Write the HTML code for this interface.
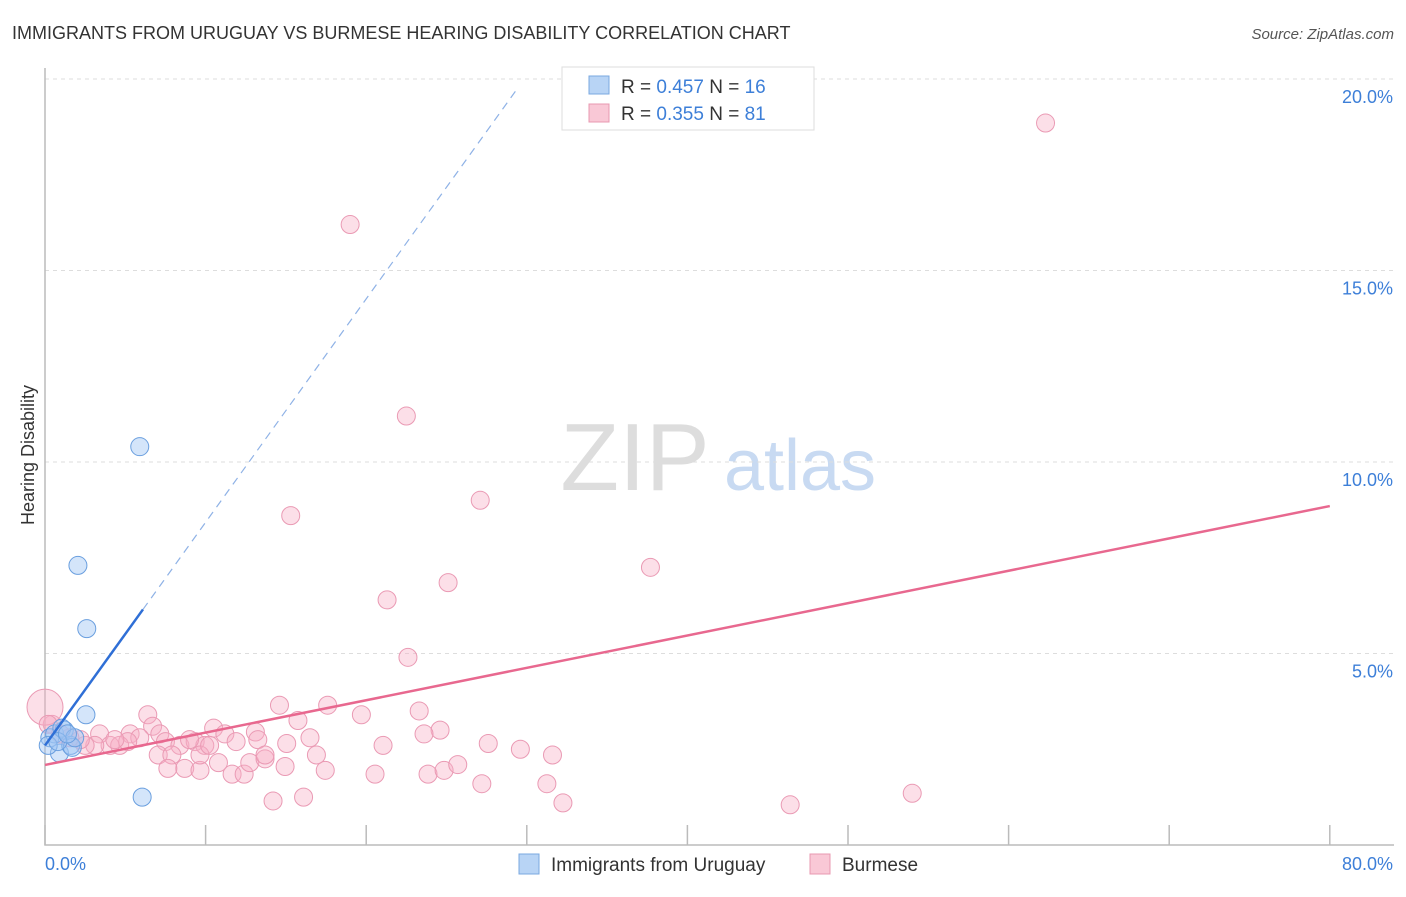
<!DOCTYPE html>
<html><head><meta charset="utf-8"><style>
body{margin:0;background:#fff;font-family:"Liberation Sans",sans-serif;}
svg text{font-family:"Liberation Sans",sans-serif;}
</style></head><body>
<svg width="1406" height="892" viewBox="0 0 1406 892" id="c">
<text x="12" y="39" font-size="18" fill="#333">IMMIGRANTS FROM URUGUAY VS BURMESE HEARING DISABILITY CORRELATION CHART</text>
<text x="1394" y="39" font-size="15" fill="#555" font-style="italic" text-anchor="end">Source: ZipAtlas.com</text>
<text x="635" y="490" font-size="96" fill="#ddd" font-family="Liberation Serif" text-anchor="middle">ZIP</text>
<text x="800" y="490" font-size="72" fill="#c8daf2" text-anchor="middle">atlas</text>
<text transform="translate(34,455) rotate(-90)" font-size="18" fill="#333" text-anchor="middle">Hearing Disability</text>
<g id="grid"></g><g id="pts"></g><g id="lines"></g>
<g>
<rect x="562" y="67" width="252" height="63" fill="#fff" stroke="#ddd"/>
<rect x="589" y="76" width="20" height="18" fill="#b8d4f5" stroke="#7aa8e0"/>
<text x="621" y="93" font-size="19" fill="#333">R = <tspan fill="#3d7fd8">0.457</tspan>   N = <tspan fill="#3d7fd8">16</tspan></text>
<rect x="589" y="104" width="20" height="18" fill="#f9c8d6" stroke="#e898b0"/>
<text x="621" y="120" font-size="19" fill="#333">R = <tspan fill="#3d7fd8">0.355</tspan>   N = <tspan fill="#3d7fd8">81</tspan></text>
</g>
<g>
<rect x="519" y="854" width="20" height="20" fill="#b8d4f5" stroke="#7aa8e0"/>
<text x="551" y="871" font-size="19" fill="#333">Immigrants from Uruguay</text>
<rect x="810" y="854" width="20" height="20" fill="#f9c8d6" stroke="#e898b0"/>
<text x="842" y="871" font-size="19" fill="#333">Burmese</text>
</g>
</svg>
<script>
const yTicks=[5,10,15,20];
const yTickLabels=["5.0%","10.0%","15.0%","20.0%"];
const xTicks=[0,10,20,30,40,50,60,70,80];
const blueX=[5.9,2.05,2.6,2.55,6.05,0.3,0.6,0.9,1.2,1.6,1.7,0.2,1.05,1.85,0.8,1.4];
const blueY=[10.4,7.3,5.65,3.4,1.25,2.8,2.9,2.4,3.0,2.6,2.55,2.6,3.05,2.8,2.7,2.9];
const pinkX=[62.3,19.0,22.5,15.3,27.1,37.7,25.1,21.3,22.6,14.6,17.6,6.4,19.7,23.3,15.75,10.5,24.6,23.6,13.1,6.7,27.6,21.05,29.6,31.6,5.3,7.15,3.4,4.05,4.65,5.9,7.5,8.4,9.35,9.95,11.2,11.9,13.25,15.05,16.5,3.1,2.5,2.2,1.55,0.95,0.45,0,0.2,7.05,7.9,8.7,9.65,10.8,11.65,12.4,12.75,13.7,14.95,17.45,16.9,20.55,23.85,24.85,25.7,27.2,31.25,32.25,14.2,16.1,46.4,54.0,9.65,7.65,5.15,4.35,13.7,10.25,9.0];
const pinkY=[18.85,16.2,11.2,8.6,9.0,7.25,6.85,6.4,4.9,3.65,3.65,3.4,3.4,3.5,3.25,3.05,3.0,2.9,2.95,3.1,2.65,2.6,2.5,2.35,2.9,2.9,2.9,2.6,2.6,2.8,2.7,2.6,2.7,2.6,2.9,2.7,2.75,2.65,2.8,2.6,2.6,2.75,2.8,2.9,3.15,3.6,3.15,2.35,2.35,2.0,1.95,2.15,1.85,1.85,2.15,2.25,2.05,1.95,2.35,1.85,1.85,1.95,2.1,1.6,1.6,1.1,1.15,1.25,1.05,1.35,2.35,2.0,2.7,2.75,2.35,2.6,2.75];
const blueLine=[0,2.6,6.1,6.15,29.5,19.8];
const pinkLine=[0,2.09,80,8.85];
const NS="http://www.w3.org/2000/svg";
const sx=v=>45+v*16.06, sy=v=>845-v*38.3;
function mk(t,a,p){const e=document.createElementNS(NS,t);for(const k in a)e.setAttribute(k,a[k]);p.appendChild(e);return e;}
const g=document.getElementById('grid');
yTicks.forEach((t,i)=>{
 const l=mk('line',{x1:45,x2:1394,y1:sy(t),y2:sy(t),stroke:'#ddd','stroke-dasharray':'4,4'},g);
 
 
 const tx=mk('text',{x:1393,y:sy(t)+24,'font-size':18,fill:'#3d7fd8','text-anchor':'end'},g);
 tx.textContent=yTickLabels[i];
 
 
});
const ax=mk('path',{d:'M45 68V845H1394',fill:'none',stroke:'#bbb','stroke-width':1.5},g);


xTicks.forEach(t=>{
 const l=mk('line',{x1:sx(t),x2:sx(t),y1:825,y2:845,stroke:'#bbb','stroke-width':1.5},g);
 
 
});
[[0,"0.0%","start",45],[80,"80.0%","end",1393]].forEach(a=>{
 const tx=mk('text',{x:a[3],y:870,'font-size':18,fill:'#3d7fd8','text-anchor':a[2]},g);
 tx.textContent=a[1];
 
 
});
const p=document.getElementById('pts');
pinkX.forEach((x,i)=>{
 const c=mk('circle',{cx:sx(x),cy:sy(pinkY[i]),r:(x===0?18:9),fill:'rgba(248,175,198,0.4)',stroke:'#ea9ab4','stroke-width':1},p);
 
 
});
blueX.forEach((x,i)=>{
 const c=mk('circle',{cx:sx(x),cy:sy(blueY[i]),r:9,fill:'rgba(160,198,245,0.45)',stroke:'#6a9fdf','stroke-width':1},p);
 
 
});
const L=document.getElementById('lines');
const b1=mk('line',{x1:sx(blueLine[0]),y1:sy(blueLine[1]),x2:sx(blueLine[2]),y2:sy(blueLine[3]),stroke:'#2f6fd6','stroke-width':2.5},L);


const b2=mk('line',{x1:sx(blueLine[2]),y1:sy(blueLine[3]),x2:sx(blueLine[4]),y2:sy(blueLine[5]),stroke:'#8fb2e6','stroke-width':1.2,'stroke-dasharray':'8,6'},L);


const pl=mk('line',{x1:sx(pinkLine[0]),y1:sy(pinkLine[1]),x2:sx(pinkLine[2]),y2:sy(pinkLine[3]),stroke:'#e8688f','stroke-width':2.5},L);


</script>
</body></html>
